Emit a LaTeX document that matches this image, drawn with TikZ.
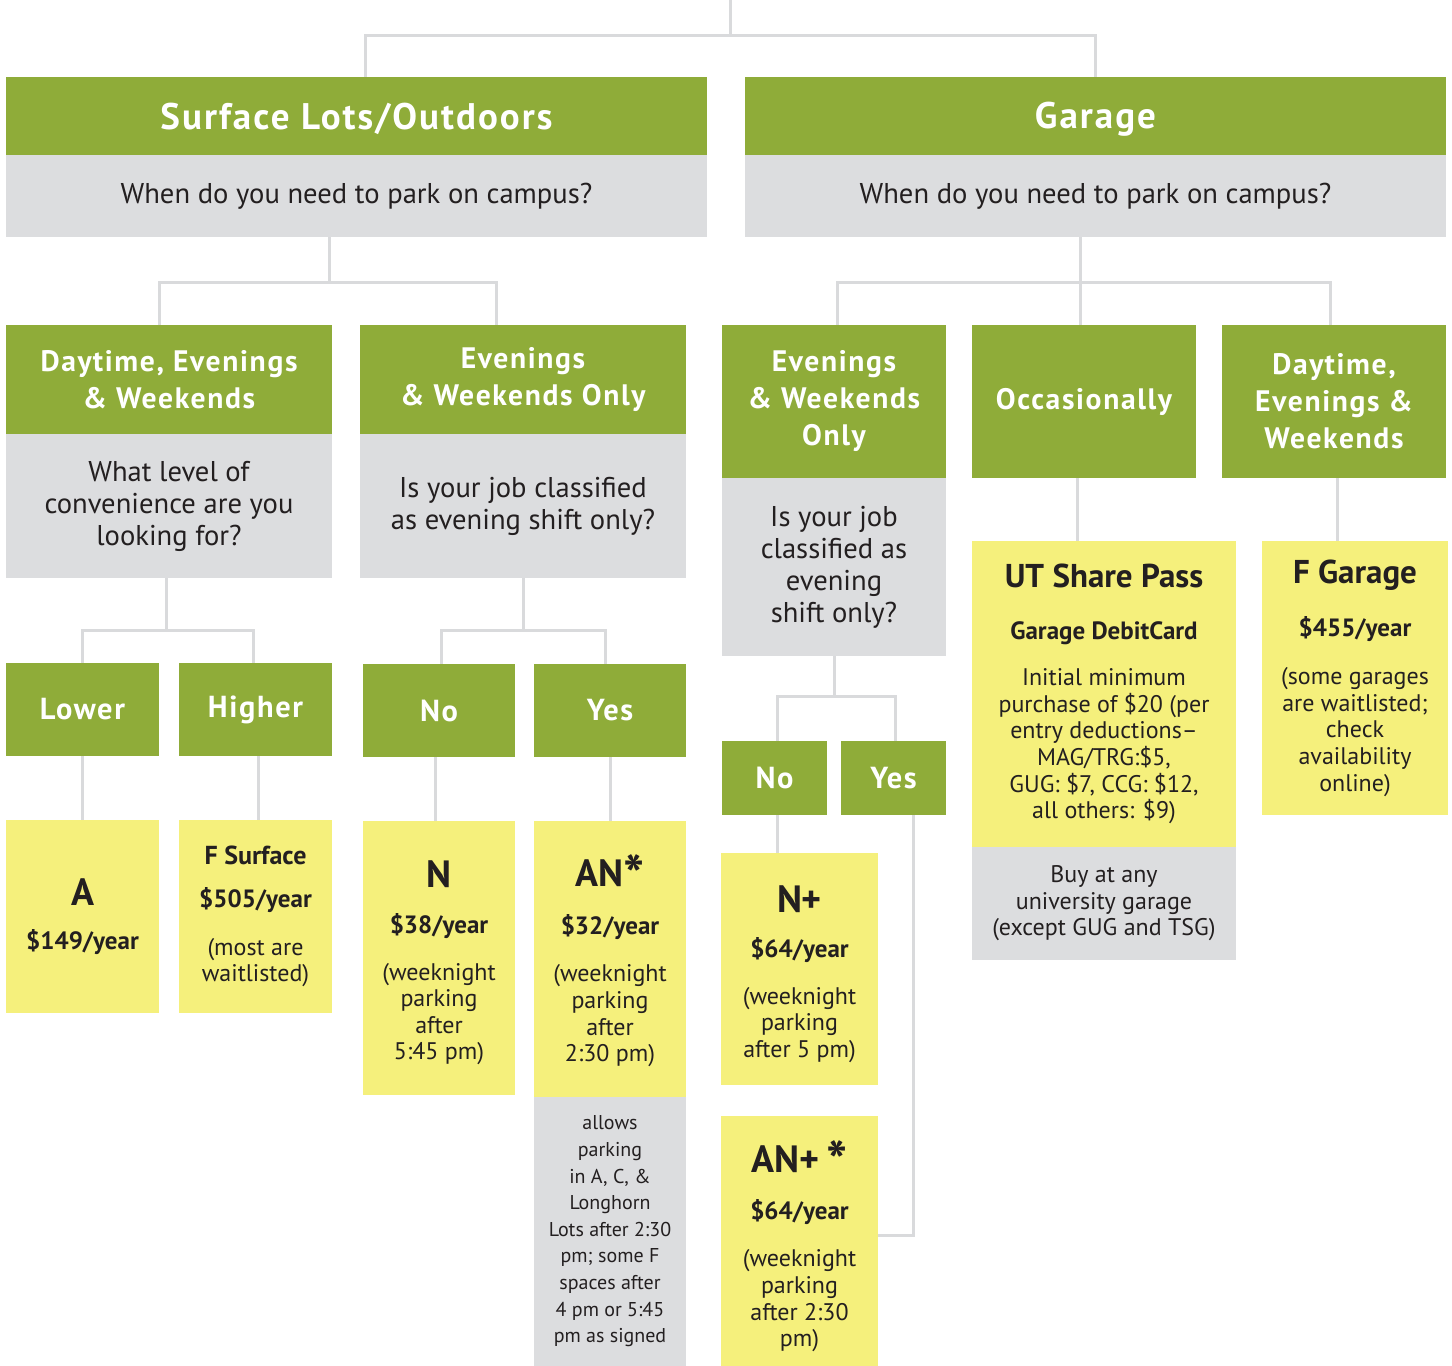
\documentclass[tikz,border=0pt]{standalone}
\usepackage{fontspec}
\setmainfont{PT Sans}
\newfontfamily\hdfont[LetterSpace=5.5]{PT Sans}
\definecolor{grn}{HTML}{8FAC39}
\definecolor{gry}{HTML}{DCDDDF}
\definecolor{ylw}{HTML}{F5F07C}
\definecolor{lin}{HTML}{D9DADC}
\definecolor{txt}{HTML}{231F20}
\newcommand\mkbox[7]{\node[#2, minimum width={(#5-#3)*0.5pt}, minimum height={(#6-#4)*0.5pt}] (#1) at ({(#3+#5)/2},{(#4+#6)/2}) {#7};}
\newcommand\bigf{\fontsize{19}{21}\selectfont\bfseries}
\newcommand\pricef{\fontsize{12.5}{14}\selectfont\bfseries}
\newcommand\ttlf{\fontsize{16.5}{18}\selectfont\bfseries}
\newcommand\astk{\raisebox{-4.5pt}{\fontsize{28}{28}\selectfont *}}
\newcommand\up[1]{\rule{0pt}{#1}}
\begin{document}
\begin{tikzpicture}[x=0.5pt,y=-0.5pt,
  basebox/.style={rectangle, inner sep=0pt, outer sep=0pt, align=center, text=txt},
  hone/.style={basebox, fill=grn, text=white, font=\hdfont\fontsize{18.5}{20}\selectfont\bfseries},
  qone/.style={basebox, fill=gry, font=\fontsize{14.3}{16}\selectfont},
  htwo/.style={basebox, fill=grn, text=white, font=\hdfont\fontsize{14.8}{18.5}\selectfont\bfseries},
  qtwo/.style={basebox, fill=gry, font=\fontsize{14.3}{16}\selectfont},
  hthree/.style={basebox, fill=grn, text=white, font=\hdfont\fontsize{15.2}{18}\selectfont\bfseries},
  ybox/.style={basebox, fill=ylw, font=\fontsize{12}{13.3}\selectfont},
  gnote/.style={basebox, fill=gry, font=\fontsize{12}{13.3}\selectfont},
  snote/.style={basebox, fill=gry, font=\fontsize{10}{13.3}\selectfont},
  conn/.style={draw=lin, line width=1.5pt}]
\useasboundingbox (0,0) rectangle (1452,1366);

% level 1
\mkbox{surfH}{hone}{6}{77}{707}{155}{\up{16pt}Surface Lots/Outdoors}
\mkbox{surfQ}{qone}{6}{155}{707}{237}{When do you need to park on campus?}
\mkbox{garH}{hone}{745}{77}{1446}{155}{\up{16pt}Garage}
\mkbox{garQ}{qone}{745}{155}{1446}{237}{When do you need to park on campus?}

% level 2
\mkbox{dewLH}{htwo}{6}{325}{332}{434}{Daytime, Evenings\\\& Weekends}
\mkbox{dewLQ}{qtwo}{6}{434}{332}{578}{What level of\\convenience are you\\looking for?}
\mkbox{ewoLH}{htwo}{360}{325}{686}{434}{Evenings\\\& Weekends Only}
\mkbox{ewoLQ}{qtwo}{360}{434}{686}{578}{Is your job classified\\as evening shift only?}
\mkbox{ewoRH}{htwo}{722}{325}{946}{478}{Evenings\\\& Weekends\\Only}
\mkbox{ewoRQ}{qtwo}{722}{478}{946}{656}{Is your job\\classified as\\evening\\shift only?}
\mkbox{occH}{htwo}{972}{325}{1196}{478}{Occasionally}
\mkbox{dewRH}{htwo}{1222}{325}{1446}{478}{Daytime,\\Evenings \&\\Weekends}

% level 3
\mkbox{lower}{hthree}{6}{663}{159}{756}{Lower}
\mkbox{higher}{hthree}{179}{663}{332}{756}{Higher}
\mkbox{noL}{hthree}{363}{664}{515}{757}{No}
\mkbox{yesL}{hthree}{534}{664}{686}{757}{Yes}
\mkbox{noR}{hthree}{722}{741}{827}{815}{No}
\mkbox{yesR}{hthree}{841}{741}{946}{815}{Yes}

% results
\mkbox{aY}{ybox}{6}{820}{159}{1013}{{\bigf A}\\[8.7pt]{\pricef \$149/year}}
\mkbox{fsY}{ybox}{179}{820}{332}{1013}{{\fontsize{13}{15}\selectfont\bfseries F Surface}\\[8.2pt]{\pricef \$505/year}\\[10.5pt](most are\\waitlisted)}
\mkbox{nY}{ybox}{363}{821}{515}{1095}{{\bigf\up{18.5pt}N}\\[9.5pt]{\pricef \$38/year}\\[10pt](weeknight\\parking\\after\\5:45 pm)}
\mkbox{anY}{ybox}{534}{821}{686}{1097}{{\bigf\up{18pt}AN\astk}\\[8.5pt]{\pricef \$32/year}\\[10.2pt](weeknight\\parking\\after\\2:30 pm)}
\mkbox{anG}{snote}{534}{1097}{686}{1366}{allows\\parking\\in A, C, \&\\Longhorn\\Lots after 2:30\\pm; some F\\spaces after\\4 pm or 5:45\\pm as signed}
\mkbox{npY}{ybox}{721}{853}{878}{1085}{{\bigf\up{18.5pt}N+}\\[9.5pt]{\pricef \$64/year}\\[10pt](weeknight\\parking\\after 5 pm)}
\mkbox{anpY}{ybox}{721}{1116}{878}{1366}{{\bigf\up{21.5pt}AN+\,\astk}\\[8pt]{\pricef \$64/year}\\[10.2pt](weeknight\\parking\\after 2:30\\pm)}
\mkbox{utY}{ybox}{972}{541}{1236}{847}{{\ttlf UT Share Pass}\\[12.7pt]{\pricef Garage DebitCard}\\[9.7pt]Initial minimum\\purchase of \$20 (per\\entry deductions–\\MAG/TRG:\$5,\\GUG: \$7, CCG: \$12,\\all others: \$9)}
\mkbox{utG}{gnote}{972}{847}{1236}{960}{Buy at any\\university garage\\(except GUG and TSG)}
\mkbox{fgY}{ybox}{1262}{541}{1448}{815}{{\ttlf F Garage}\\[12.2pt]{\pricef \$455/year}\\[10.7pt](some garages\\are waitlisted;\\check\\availability\\online)}

% connectors
\coordinate (top) at (730,0);
\draw[conn] (top) -- ++(0,35) coordinate (j0);
\draw[conn] ([xshift=4.25pt]surfH.north) |- (j0) -| (garH.north);

\draw[conn] ([xshift=-13.75pt]surfQ.south) -- ++(0,45) coordinate (j1);
\draw[conn] ([xshift=-5pt]dewLH.north) |- (j1) -| ([xshift=-13.5pt]ewoLH.north);

\draw[conn] ([xshift=-7.75pt]garQ.south) -- ([xshift=-7.75pt]garQ.south |- occH.north);
\path ([xshift=-7.75pt]garQ.south) ++(0,45) coordinate (j2);
\draw[conn] ([xshift=1.5pt]ewoRH.north) |- (j2) -| ([xshift=-2pt]dewRH.north);

\draw[conn] ([xshift=-1.5pt]dewLQ.south) -- ++(0,52) coordinate (j3);
\draw[conn] (lower.north) |- (j3) -| ([xshift=-1.25pt]higher.north);

\draw[conn] (ewoLQ.south) -- ++(0,52) coordinate (j4);
\draw[conn] ([xshift=1pt]noL.north) |- (j4) -| ([xshift=-2.5pt]yesL.north);

\draw[conn] (ewoRQ.south) -- ++(0,40) coordinate (j5);
\draw[conn] ([xshift=1.25pt]noR.north) |- (j5) -| ([xshift=0.75pt]yesR.north);

\draw[conn] ([xshift=-3.5pt]occH.south) -- ([xshift=-3.5pt]occH.south |- utY.north);
\draw[conn] ([xshift=1.5pt]dewRH.south) -- ([xshift=1.5pt]dewRH.south |- fgY.north);

\draw[conn] (lower.south) -- (aY.north);
\draw[conn] ([xshift=1.25pt]higher.south) -- ([xshift=1.25pt]higher.south |- fsY.north);
\draw[conn] ([xshift=-2pt]noL.south) -- ([xshift=-2pt]noL.south |- nY.north);
\draw[conn] (yesL.south) -- (anY.north);
\draw[conn] ([xshift=1.25pt]noR.south) -- ([xshift=1.25pt]noR.south |- npY.north);
\draw[conn] ([xshift=9.75pt]yesR.south) |- ([yshift=3pt]anpY.east);
\end{tikzpicture}
\end{document}
